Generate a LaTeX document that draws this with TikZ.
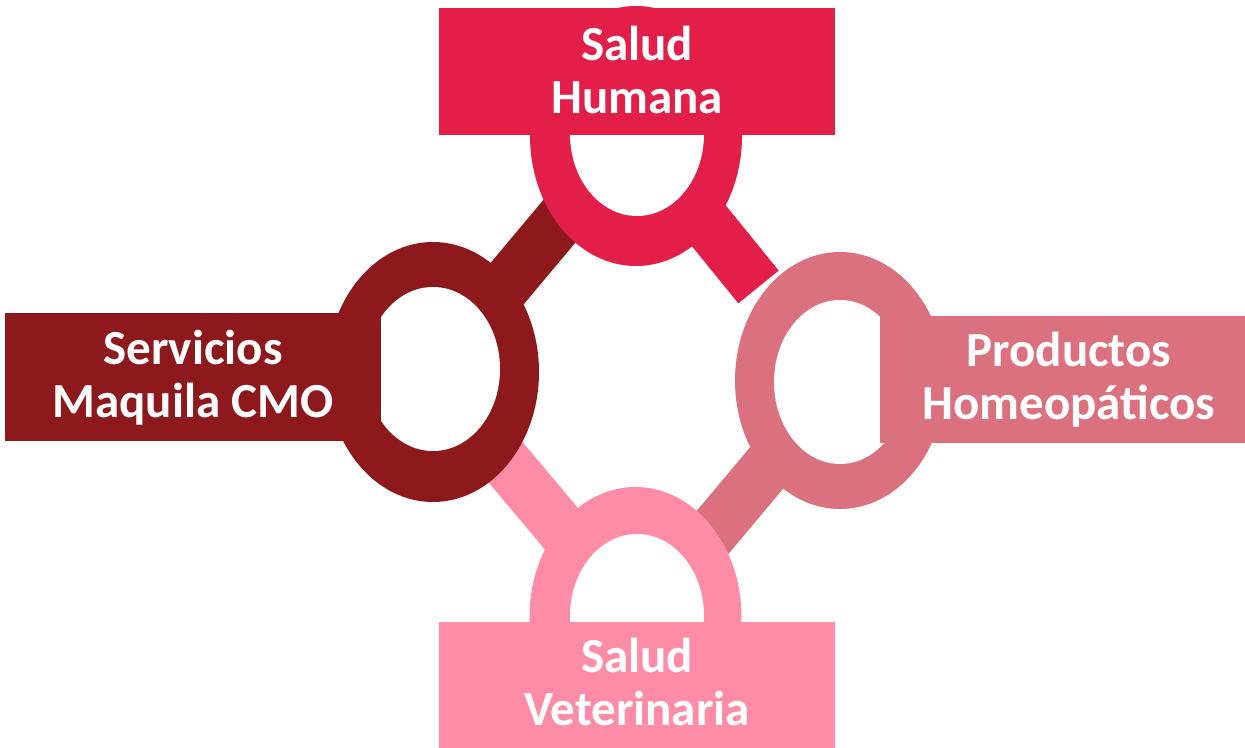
\documentclass[tikz,border=0pt]{standalone}
\usepackage{fontspec}
\setmainfont{Carlito}
\definecolor{cTop}{RGB}{227,30,72}
\definecolor{cLeft}{RGB}{142,25,29}
\definecolor{cRight}{RGB}{219,113,127}
\definecolor{cBottom}{RGB}{255,140,166}
\begin{document}
\begin{tikzpicture}[x=0.5pt,y=-0.5pt,
  spoke/.style={line width=26pt,line cap=butt},
  ringout/.style={x radius=53pt,y radius=65pt},
  ringin/.style={x radius=33.5pt,y radius=41pt},
  box/.style={rectangle,inner sep=0pt,outer sep=0pt,anchor=north west},
  lbl/.style={text=white,align=center,inner sep=0pt,
    font=\fontsize{24.5pt}{26.5pt}\selectfont\bfseries}]
\useasboundingbox (0,0) rectangle (1245,748);
% ring centres
\coordinate (cT) at (636,136);
\coordinate (cTi) at (637,134);
\coordinate (cL) at (433,372);
\coordinate (cLi) at (433,369);
\coordinate (cR) at (840,380.5);
\coordinate (cRi) at (840,382);
\coordinate (cB) at (635.5,617);
\coordinate (cBi) at (637,616);
% spoke ends
\coordinate (eT) at (758.5,287);
\coordinate (eL) at (568,211);
\coordinate (eR) at (702,545);
\coordinate (eB) at (497,452);
% spokes
\draw[spoke,cTop] (cT) -- (eT);
\draw[spoke,cLeft] (cL) -- (eL);
\draw[spoke,cRight] (cR) -- (eR);
\draw[spoke,cBottom] (cB) -- (eB);
% rings
\fill[cTop] (cT) ellipse [ringout];
\fill[white] (cTi) ellipse [ringin];
\fill[cLeft] (cL) ellipse [ringout];
\fill[white] (cLi) ellipse [ringin];
\fill[cRight] (cR) ellipse [x radius=52.5pt,y radius=64.25pt];
\fill[white] (cRi) ellipse [x radius=33pt,y radius=41pt];
\fill[cBottom] (cB) ellipse [ringout];
\fill[white] (cBi) ellipse [ringin];
% boxes
\node[box,fill=cTop,minimum width=198pt,minimum height=63.5pt] (bT) at (439,8) {};
\node[box,fill=cLeft,minimum width=188pt,minimum height=64pt] (bL) at (5,313) {};
\node[box,fill=cRight,minimum width=182.5pt,minimum height=63.5pt] (bR) at (880,316) {};
\node[box,fill=cBottom,minimum width=198pt,minimum height=63pt] (bB) at (439,622) {};
% labels
\node[lbl] (tT) at (637,76.2) {\strut Salud\\\strut Humana};
\node[lbl] (tL) at (193,380.4) {\strut Servicios\\\strut Maquila CMO};
\node[lbl] (tR) at (1069,381.9) {\strut Productos\\\strut Homeopáticos};
\node[lbl] (tB) at (637,688.4) {\strut Salud\\\strut Veterinaria};
\end{tikzpicture}
\end{document}
